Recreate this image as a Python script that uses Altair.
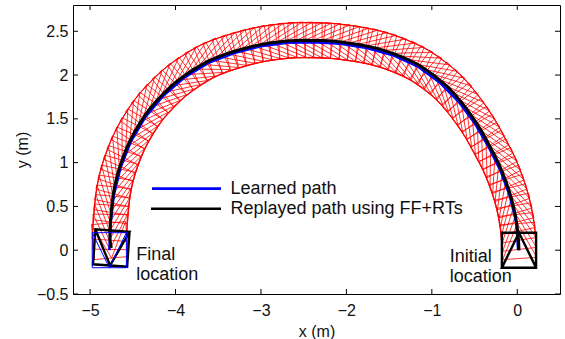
import numpy as np
import pandas as pd
import altair as alt

# Replayed path (FF+RTs): robot poses in metres, from the initial to the final location
replay_x = [0.020, 0.015, 0.006, -0.008, -0.026, -0.049, -0.076, -0.108, -0.144, -0.182,
            -0.225, -0.272, -0.323, -0.372, -0.424, -0.481, -0.542, -0.604, -0.671, -0.741,
            -0.815, -0.896, -0.980, -1.068, -1.158, -1.253, -1.351, -1.450, -1.551, -1.653,
            -1.756, -1.859, -1.963, -2.067, -2.171, -2.276, -2.380, -2.485, -2.590, -2.695,
            -2.799, -2.904, -3.009, -3.113, -3.216, -3.320, -3.423, -3.525, -3.625, -3.721,
            -3.814, -3.905, -3.993, -4.076, -4.155, -4.231, -4.303, -4.368, -4.428, -4.484,
            -4.536, -4.581, -4.621, -4.656, -4.687, -4.711, -4.730, -4.744, -4.753, -4.763,
            -4.768, -4.766, -4.752]
replay_y = [0.000, 0.105, 0.209, 0.312, 0.415, 0.517, 0.617, 0.716, 0.814, 0.910,
            1.005, 1.097, 1.188, 1.279, 1.369, 1.457, 1.543, 1.628, 1.709, 1.789,
            1.865, 1.934, 1.999, 2.060, 2.117, 2.164, 2.207, 2.245, 2.279, 2.307,
            2.330, 2.349, 2.364, 2.378, 2.388, 2.394, 2.395, 2.398, 2.396, 2.389,
            2.378, 2.365, 2.347, 2.325, 2.298, 2.269, 2.236, 2.199, 2.156, 2.104,
            2.048, 1.987, 1.923, 1.851, 1.775, 1.696, 1.613, 1.525, 1.434, 1.341,
            1.245, 1.145, 1.045, 0.943, 0.840, 0.735, 0.630, 0.524, 0.418, 0.314,
            0.209, 0.110, 0.025]
# heading of the robot at the initial and final replayed poses (degrees)
replay_start_heading = 90
replay_end_heading = -94

# Learned path
learned_x = [0.010, -0.011, -0.086, -0.195, -0.336, -0.496, -0.686, -0.910, -1.168, -1.458,
             -1.761, -2.070, -2.380, -2.692, -3.004, -3.313, -3.615, -3.894, -4.143, -4.356,
             -4.524, -4.645, -4.722, -4.759, -4.775]
learned_y = [0.000, 0.312, 0.615, 0.905, 1.180, 1.446, 1.694, 1.916, 2.100, 2.227,
             2.309, 2.358, 2.375, 2.369, 2.328, 2.252, 2.139, 1.973, 1.763, 1.516,
             1.238, 0.938, 0.628, 0.313, 0.000]
learned_end_heading = -90

x_ticks = [-5, -4, -3, -2, -1, 0]
y_ticks = [-0.5, 0, 0.5, 1, 1.5, 2, 2.5]

HALF = 0.2          # half side of the square robot footprint (m)
W, H = 487, 289     # plot area in pixels
FONT = "Liberation Sans"


def headings(xs, ys):
    xs, ys = np.asarray(xs, float), np.asarray(ys, float)
    return np.arctan2(np.gradient(ys), np.gradient(xs))


def footprint(cx, cy, th, half=HALF):
    """Square outline plus the triangle pointing along the heading."""
    hx, hy = np.cos(th), np.sin(th)
    nx, ny = -hy, hx
    fl = (cx + half * (hx + nx), cy + half * (hy + ny))
    fr = (cx + half * (hx - nx), cy + half * (hy - ny))
    bl = (cx + half * (-hx + nx), cy + half * (-hy + ny))
    br = (cx + half * (-hx - nx), cy + half * (-hy - ny))
    fm = (cx + half * hx, cy + half * hy)
    return [bl, fl, fr, br, bl, fm, br]


def footprint_frame(poses):
    rows = []
    for fid, (cx, cy, th) in enumerate(poses):
        for i, (px, py) in enumerate(footprint(cx, cy, th)):
            rows.append({"fid": fid, "idx": i, "x": px, "y": py})
    return pd.DataFrame(rows)


rth = headings(replay_x, replay_y)
rth[0] = np.radians(replay_start_heading)
rth[-1] = np.radians(replay_end_heading)
replay_poses = list(zip(replay_x, replay_y, rth))

red_df = footprint_frame(replay_poses[1:-1])
black_fp_df = footprint_frame([replay_poses[0], replay_poses[-1]])
blue_fp_df = footprint_frame([(learned_x[-1], learned_y[-1], np.radians(learned_end_heading))])

replay_df = pd.DataFrame({"idx": range(len(replay_x)), "x": replay_x, "y": replay_y})
learned_df = pd.DataFrame({"idx": range(len(learned_x)), "x": learned_x, "y": learned_y})

xs = alt.Scale(domain=[-5.2, 0.5], nice=False, zero=False)
ys = alt.Scale(domain=[-0.5, 2.8], nice=False, zero=False)
x_axis = alt.Axis(values=x_ticks, format="~g", title="x (m)", labelPadding=8,
                  titleX=W / 2, titleY=42, titleAlign="center", titleBaseline="alphabetic")
y_axis = alt.Axis(values=y_ticks, format="~g", title="y (m)", labelPadding=5,
                  titleX=-46, titleY=H / 2, titleAlign="center", titleBaseline="alphabetic",
                  titleAngle=270)
X = alt.X("x:Q", scale=xs, axis=x_axis)
Y = alt.Y("y:Q", scale=ys, axis=y_axis)

red = alt.Chart(red_df).mark_line(color="#ff0000", strokeWidth=0.8).encode(
    x=X, y=Y, detail="fid:N", order="idx:Q")
blue_path = alt.Chart(learned_df).mark_line(color="#0000ff", strokeWidth=2.5).encode(
    x=X, y=Y, order="idx:Q")
black_path = alt.Chart(replay_df).mark_line(color="black", strokeWidth=3).encode(
    x=X, y=Y, order="idx:Q")
black_fp = alt.Chart(black_fp_df).mark_line(color="black", strokeWidth=2.4).encode(
    x=X, y=Y, detail="fid:N", order="idx:Q")
blue_fp = alt.Chart(blue_fp_df).mark_line(color="#0000ff", strokeWidth=1).encode(
    x=X, y=Y, detail="fid:N", order="idx:Q")

# location labels
notes = pd.DataFrame({
    "x": [-4.46, -4.46, -0.79, -0.79],
    "y": [-0.11, -0.34, -0.14, -0.36],
    "label": ["Final", "location", "Initial", "location"],
})
note_text = alt.Chart(notes).mark_text(
    align="left", baseline="alphabetic", font=FONT, fontSize=18, color="#111"
).encode(x=X, y=Y, text="label:N")

# legend box contents
one = pd.DataFrame({"a": [0]})
leg_blue = alt.Chart(one).mark_rule(color="#0000ff", strokeWidth=2.6).encode(
    x=alt.value(79), x2=alt.value(148), y=alt.value(183.6))
leg_black = alt.Chart(one).mark_rule(color="black", strokeWidth=2.6).encode(
    x=alt.value(78), x2=alt.value(148), y=alt.value(203.8))
leg_t1 = alt.Chart(one).mark_text(align="left", baseline="alphabetic", font=FONT,
                                  fontSize=18, color="#111").encode(
    x=alt.value(157.5), y=alt.value(188.5), text=alt.value("Learned path"))
leg_t2 = alt.Chart(one).mark_text(align="left", baseline="alphabetic", font=FONT,
                                  fontSize=18, color="#111").encode(
    x=alt.value(157.5), y=alt.value(208.5), text=alt.value("Replayed path using FF+RTs"))

# inward tick marks on all four sides
TL = 5
xt = pd.DataFrame({"x": x_ticks})
yt = pd.DataFrame({"y": y_ticks})
tick_b = alt.Chart(xt).mark_rule(color="black", strokeWidth=1).encode(
    x=X, y=alt.value(H), y2=alt.value(H - TL))
tick_t = alt.Chart(xt).mark_rule(color="black", strokeWidth=1).encode(
    x=X, y=alt.value(0), y2=alt.value(TL))
tick_l = alt.Chart(yt).mark_rule(color="black", strokeWidth=1).encode(
    y=Y, x=alt.value(0), x2=alt.value(TL))
tick_r = alt.Chart(yt).mark_rule(color="black", strokeWidth=1).encode(
    y=Y, x=alt.value(W), x2=alt.value(W - TL))

chart = alt.layer(
    red, blue_path, black_path, black_fp, blue_fp, note_text,
    leg_blue, leg_black, leg_t1, leg_t2, tick_b, tick_t, tick_l, tick_r,
).properties(
    width=W, height=H,
    autosize=alt.AutoSizeParams(type="none"),
    padding={"left": 73, "top": 5, "right": 5, "bottom": 45},
    background="white",
).configure_view(
    stroke="black", strokeWidth=1
).configure_axis(
    domain=False, ticks=False, grid=False,
    labelFont=FONT, labelFontSize=16, labelColor="#111",
    titleFont=FONT, titleFontSize=16, titleFontWeight="normal", titleColor="#111",
)

chart.save("out.html", embed_options={"renderer": "svg", "actions": False})
